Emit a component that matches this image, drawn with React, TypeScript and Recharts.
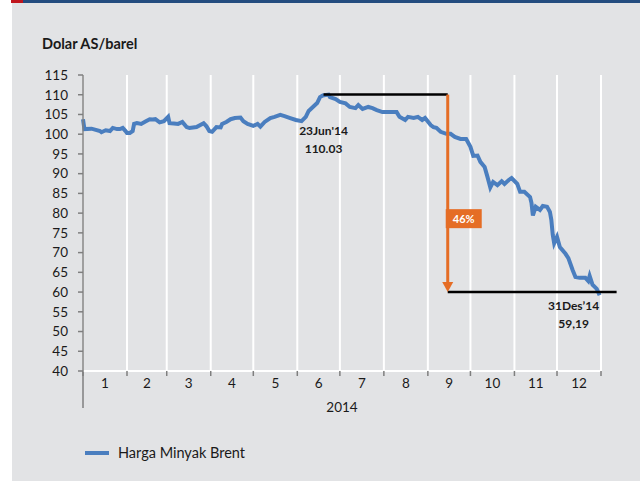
import {
  CartesianGrid,
  Line,
  LineChart,
  ReferenceDot,
  ReferenceLine,
  XAxis,
  YAxis,
} from "recharts";

// day of year (2014) and Brent price, US$/barrel
const tradingDays = [
  0, 1, 6, 12, 13, 16, 19, 21, 24, 26,
  28, 30, 31, 33, 35, 36, 38, 41, 44, 47,
  49, 51, 54, 57, 60, 61, 64, 67, 70, 73,
  75, 80, 85, 87, 89, 91, 94, 97, 98, 101,
  104, 107, 111, 113, 116, 120, 123, 125, 128, 132,
  135, 139, 142, 146, 150, 154, 157, 159, 162, 165,
  167, 169, 173, 174, 178, 181, 185, 188, 192, 194,
  197, 201, 204, 207, 211, 216, 221, 223, 227, 229,
  233, 236, 239, 241, 245, 247, 249, 252, 256, 259,
  262, 266, 270, 273, 275, 278, 280, 283, 285, 287,
  289, 292, 295, 297, 300, 302, 306, 308, 311, 315,
  316, 317, 319, 322, 324, 327, 329, 330, 331, 332,
  334, 336, 340, 342, 345, 347, 350, 354, 356, 357,
  359, 362, 364,
];

const brentPrices = [
  103.8, 101.3, 101.4, 100.8, 100.5, 101.0, 100.8, 101.6, 101.3, 101.3,
  101.6, 100.8, 100.3, 100.3, 100.8, 102.6, 102.8, 102.6, 103.2, 103.8,
  103.7, 103.8, 103.0, 103.3, 104.4, 102.8, 102.7, 102.6, 103.1, 101.8,
  101.6, 101.8, 102.8, 102.0, 100.8, 100.6, 101.8, 101.7, 102.6, 103.1,
  103.8, 104.1, 104.2, 103.3, 102.6, 102.1, 102.6, 101.9, 103.1, 104.1,
  104.4, 104.9, 104.6, 104.1, 103.6, 103.3, 104.4, 105.9, 106.9, 107.9,
  109.4, 109.8, 110.03, 109.4, 108.9, 108.2, 107.8, 106.9, 106.6, 107.4,
  106.4, 106.9, 106.6, 106.1, 105.6, 105.6, 105.6, 104.4, 103.6, 104.4,
  104.1, 104.4, 103.6, 104.1, 102.3, 101.8, 101.6, 100.6, 100.1, 100.1,
  99.3, 98.8, 98.8, 96.8, 94.5, 94.6, 93.0, 91.7, 89.2, 86.5,
  87.9, 87.1, 88.1, 87.4, 88.4, 88.9, 87.4, 85.4, 85.4, 84.1,
  82.6, 79.4, 81.6, 80.8, 81.8, 81.6, 80.3, 78.3, 74.5, 72.4,
  74.0, 71.4, 69.7, 68.6, 65.6, 63.8, 63.6, 63.6, 62.8, 64.1,
  61.9, 60.8, 59.19,
];

const monthStarts = [0, 31, 59, 90, 120, 151, 181, 212, 243, 273, 304, 334, 365];
const monthLabels = ["1", "2", "3", "4", "5", "6", "7", "8", "9", "10", "11", "12"];
const yTicks = [40, 45, 50, 55, 60, 65, 70, 75, 80, 85, 90, 95, 100, 105, 110, 115];

const peak = { day: 173, price: 110.03, label: "23Jun'14", value: "110.03" };
const last = { day: 364, price: 59.19, label: "31Des\u201914", value: "59,19" };
const dropLevel = 60;
const dropDay = 257;
const dropLabel = "46%";

const data = tradingDays.map((day, i) => ({ day, price: brentPrices[i] }));
const monthMids = monthStarts.slice(0, -1).map((d, i) => (d + monthStarts[i + 1]) / 2);

const colors = {
  panel: "#e2e3e5",
  line: "#4a7ebf",
  orange: "#e56d25",
  ink: "#1a1a1a",
  axis: "#7f7f7f",
  navy: "#244c7f",
  red: "#c0161d",
};

const font = "Lato, 'Open Sans', sans-serif";

const Arrow = (props: any) => {
  const { x1, y1, x2, y2 } = props;
  return (
    <g>
      <line x1={x1} y1={y1} x2={x2} y2={y2 - 9} stroke={colors.orange} strokeWidth={3} />
      <polygon
        points={`${x2 - 5.5},${y2 - 10} ${x2 + 5.5},${y2 - 10} ${x2},${y2}`}
        fill={colors.orange}
      />
    </g>
  );
};

const PctBox = (props: any) => {
  const { cx, cy } = props;
  return (
    <g>
      <rect x={cx - 2} y={cy - 9.5} width={36} height={19} fill={colors.orange} />
      <text
        x={cx + 16}
        y={cy}
        textAnchor="middle"
        dominantBaseline="central"
        fill="#fff"
        fontSize={11}
        fontWeight={700}
        fontFamily={font}
      >
        {dropLabel}
      </text>
    </g>
  );
};

const annotation = (lines: string[], dx: number, dy: number) => (props: any) => {
  const { cx, cy } = props;
  return (
    <g>
      {lines.map((t, i) => (
        <text
          key={t}
          x={cx + dx}
          y={cy + dy + i * 17.5}
          textAnchor="middle"
          dominantBaseline="central"
          fill={colors.ink}
          fontSize={12}
          fontWeight={700}
          fontFamily={font}
        >
          {t}
        </text>
      ))}
    </g>
  );
};

const NoLabel = () => <g />;

export default function App() {
  return (
    <div style={{ position: "absolute", left: 0, top: 0, width: 640, height: 481, background: "#fff", fontFamily: font }}>
      <div style={{ position: "absolute", left: 12, top: 2, width: 628, height: 479, background: colors.panel }} />
      <div style={{ position: "absolute", left: 23, top: 0, width: 617, height: 3, background: colors.navy }} />
      <div style={{ position: "absolute", left: 11, top: 0, width: 12, height: 3, background: colors.red }} />
      <div
        style={{
          position: "absolute",
          left: 42,
          top: 35,
          fontSize: 14.5,
          fontWeight: 700,
          color: colors.ink,
        }}
      >
        Dolar AS/barel
      </div>
      <div style={{ position: "absolute", left: 0, top: 0 }}>
        <LineChart
          width={640}
          height={481}
          data={data}
          margin={{ top: 75, right: 39, left: 43, bottom: 65 }}
        >
          <CartesianGrid vertical horizontal={false} stroke="#ffffff" strokeWidth={2} />
          <XAxis
            dataKey="day"
            type="number"
            domain={[0, 365]}
            ticks={monthStarts}
            interval={0}
            tick={NoLabel}
            height={5}
            tickSize={5}
            axisLine={{ stroke: "#ffffff", strokeWidth: 2 }}
            tickLine={{ stroke: colors.axis, strokeWidth: 1.5 }}
          />
          <XAxis
            xAxisId="month"
            dataKey="day"
            type="number"
            domain={[0, 365]}
            ticks={monthMids}
            interval={0}
            tickFormatter={(_v: number, i: number) => monthLabels[i]}
            axisLine={false}
            tickLine={false}
            tickSize={0}
            tickMargin={2}
            height={40}
            tick={{ fill: colors.ink, fontSize: 13.5, fontFamily: font }}
            label={{
              value: "2014",
              position: "insideBottom",
              offset: 4,
              fill: colors.ink,
              fontSize: 13.5,
              fontFamily: font,
            }}
          />
          <YAxis
            type="number"
            domain={[40, 115]}
            ticks={yTicks}
            interval={0}
            width={40}
            tickSize={5}
            tickMargin={10}
            axisLine={{ stroke: colors.axis, strokeWidth: 1.5 }}
            tickLine={{ stroke: colors.axis, strokeWidth: 1.5 }}
            tick={{ fill: colors.ink, fontSize: 13.5, fontFamily: font }}
          />
          <ReferenceLine
            segment={[{ x: 0, y: 40 }, { x: 0, y: 30.6 }]}
            ifOverflow="visible"
            stroke={colors.axis}
            strokeWidth={1.5}
          />
          <Line
            type="linear"
            dataKey="price"
            stroke={colors.line}
            strokeWidth={4}
            dot={false}
            isAnimationActive={false}
          />
          <ReferenceLine
            segment={[{ x: 169.5, y: peak.price }, { x: dropDay, y: peak.price }]}
            ifOverflow="visible"
            stroke="#000"
            strokeWidth={2.5}
          />
          <ReferenceLine
            segment={[{ x: dropDay, y: dropLevel }, { x: 376, y: dropLevel }]}
            ifOverflow="visible"
            stroke="#000"
            strokeWidth={2.5}
          />
          <ReferenceLine
            segment={[{ x: dropDay, y: peak.price }, { x: dropDay, y: dropLevel }]}
            ifOverflow="visible"
            shape={Arrow}
          />
          <ReferenceDot x={dropDay} y={78.6} ifOverflow="visible" shape={PctBox} />
          <ReferenceDot
            x={peak.day}
            y={peak.price}
            ifOverflow="visible"
            shape={annotation([peak.label, peak.value], -5, 36)}
          />
          <ReferenceDot
            x={last.day}
            y={last.price}
            ifOverflow="visible"
            shape={annotation([last.label, last.value], -26, 10.5)}
          />
        </LineChart>
      </div>
      <div
        style={{
          position: "absolute",
          left: 85,
          top: 444,
          display: "flex",
          alignItems: "center",
          fontSize: 14.5,
          color: colors.ink,
        }}
      >
        <span style={{ display: "inline-block", width: 24, height: 4, background: colors.line, marginRight: 9 }} />
        Harga Minyak Brent
      </div>
    </div>
  );
}
